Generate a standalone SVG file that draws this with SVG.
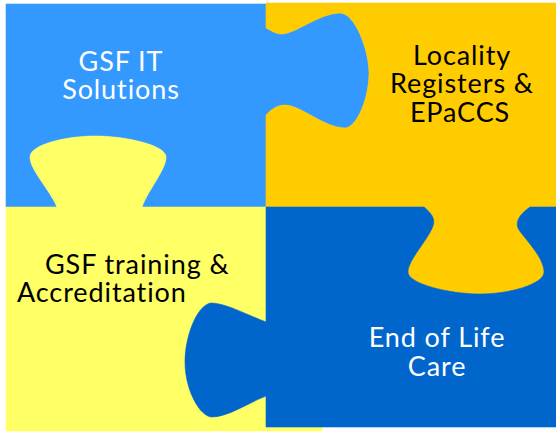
<svg xmlns="http://www.w3.org/2000/svg" width="556" height="432" viewBox="0 0 556 432">
<style>
.lbl{font-family:Lato,"Open Sans","Liberation Sans",sans-serif;font-size:27px;letter-spacing:0.9px}
.w{fill:#FFFFFF}
.k{fill:#000000}
.mid{text-anchor:middle}
</style>
<rect width="556" height="432" fill="#FFFFFF"/>
<g id="piece-gsf-it">
<path fill="#3399FF" stroke="#3399FF" stroke-width="0.6" d="M6,4 H266 V28 C272,31 276,34 282,34 C295,34 320,13 340,13 C355,13 369,50 369,73 C369,100 356,128 345,128 C325,128 300,105 285,105 C276,105 270,111 266,115 V207 H142 C148,190 166,170 166,157 C166,145 125,136 95,136 C65,136 30,145 30,157 C30,170 50,190 57,207 H6 Z"/>
<text class="lbl w mid" x="121" y="71">GSF IT</text>
<text class="lbl w mid" x="121" y="99">Solutions</text>
</g>
<g id="piece-locality">
<path fill="#FFCC00" stroke="#FFCC00" stroke-width="0.6" d="M266,3 H556 V207 H530 C520,214 514,222 519,230 C526,240 544,258 544,272 C544,284 510,294 480,294 C450,294 408,284 408,272 C408,260 428,240 433,226 C436,218 430,212 424,207 H266 V115 C270,111 276,105 285,105 C300,105 325,128 345,128 C356,128 369,100 369,73 C369,50 355,13 340,13 C320,13 295,34 282,34 C276,34 272,31 266,28 Z"/>
<text class="lbl k mid" x="462" y="65">Locality</text>
<text class="lbl k mid" x="462" y="93">Registers &amp;</text>
<text class="lbl k mid" x="460" y="122">EPaCCS</text>
</g>
<g id="piece-training">
<path fill="#FFFF66" stroke="#FFFF66" stroke-width="0.6" d="M6,207 H57 C50,190 30,170 30,157 C30,145 65,136 95,136 C125,136 166,145 166,157 C166,170 148,190 142,207 H266 V322 C250,316 225,303 212,303 C198,303 185,335 185,362 C185,390 200,417 212,417 C228,417 250,402 266,396 V427 H322 V431 H6 Z"/>
<text class="lbl k" x="45" y="274">GSF training &amp;</text>
<text class="lbl k" x="17" y="302">Accreditation</text>
</g>
<g id="piece-eolc">
<path fill="#0066CC" stroke="#0066CC" stroke-width="0.6" d="M266,207 H424 C430,212 436,218 433,226 C428,240 408,260 408,272 C408,284 450,294 480,294 C510,294 544,284 544,272 C544,258 526,240 519,230 C514,222 520,214 530,207 H556 V427 H266 V396 C250,402 228,417 212,417 C200,417 185,390 185,362 C185,335 198,303 212,303 C225,303 250,316 266,322 Z"/>
<text class="lbl w mid" x="437" y="347">End of Life</text>
<text class="lbl w mid" x="437" y="376">Care</text>
</g>
<g id="connectors"/>
</svg>
